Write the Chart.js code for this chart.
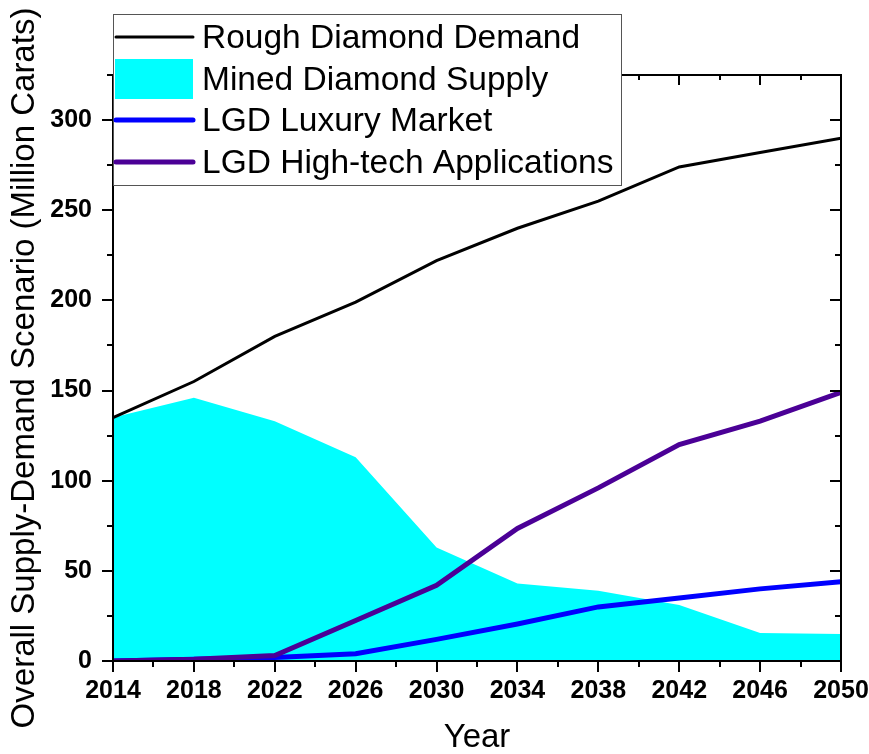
<!DOCTYPE html>
<html>
<head>
<meta charset="utf-8">
<script src="https://cdn.jsdelivr.net/npm/chart.js@4.4.0/dist/chart.umd.min.js"></script>
<style>
html, body { margin: 0; padding: 0; background: #fff; }
</style>
</head>
<body>
<canvas id="DiamondChart" width="869" height="754"></canvas>
<script>
var years = [2014, 2018, 2022, 2026, 2030, 2034, 2038, 2042, 2046, 2050];
var roughDemand = [135, 155, 180, 199, 222, 240, 255, 274, 282, 290];
var minedSupply = [135, 146, 133, 113, 63, 43, 39, 31, 15.5, 15];
var lgdLuxury = [0, 1, 2, 4, 12, 20.5, 30, 35, 40, 44];
var lgdHighTech = [0, 1, 3, 22.5, 42, 73.5, 96, 120, 133, 149];
var yTickLabels = [0, 50, 100, 150, 200, 250, 300];
var xTickLabels = [2014, 2018, 2022, 2026, 2030, 2034, 2038, 2042, 2046, 2050];

var FONT = "'Liberation Sans', Arial, sans-serif";

function points(values) {
	return years.map(function(y, i) { return {x: y, y: values[i]}; });
}

// box frame, inner/outer tick marks and the boxed legend
var frameAndLegend = {
	id: "frameAndLegend",
	afterDraw: function(chart) {
		var ctx = chart.ctx, a = chart.chartArea;
		var xs = chart.scales.x, ys = chart.scales.y;
		function seg(x1, y1, x2, y2) {
			ctx.beginPath(); ctx.moveTo(x1, y1); ctx.lineTo(x2, y2); ctx.stroke();
		}
		ctx.save();
		ctx.strokeStyle = "#000";
		ctx.lineWidth = 2;
		ctx.strokeRect(a.left, a.top, a.right - a.left, a.bottom - a.top);
		ys.ticks.forEach(function(t) {
			var y = Math.round(ys.getPixelForValue(t.value));
			var major = yTickLabels.indexOf(t.value) >= 0;
			seg(a.left - (major ? 11 : 6), y, a.left, y);
			seg(a.right - (major ? 11 : 6), y, a.right, y);
		});
		xs.ticks.forEach(function(t) {
			var x = Math.round(xs.getPixelForValue(t.value));
			var major = xTickLabels.indexOf(t.value) >= 0;
			seg(x, a.bottom, x, a.bottom + (major ? 11 : 6));
			seg(x, a.top, x, a.top + (major ? 10 : 5));
		});

		// legend
		var bx = 113, by = 14, bw = 508, bh = 171;
		ctx.fillStyle = "#fff";
		ctx.fillRect(bx, by, bw, bh);
		ctx.strokeStyle = "#555";
		ctx.lineWidth = 1;
		ctx.strokeRect(bx + 0.5, by + 0.5, bw, bh);
		var rows = [37, 79, 120, 162];
		ctx.font = "33.5px " + FONT;
		ctx.textBaseline = "alphabetic";
		chart.data.datasets.forEach(function(ds, i) {
			var cy = rows[i];
			if (ds.fill) {
				ctx.fillStyle = ds.backgroundColor;
				ctx.fillRect(115, cy - 20, 78, 40);
			} else {
				ctx.strokeStyle = ds.borderColor;
				ctx.lineWidth = ds.borderWidth;
				ctx.lineCap = "round";
				seg(116, cy, 193, cy);
			}
			ctx.fillStyle = "#000";
			ctx.fillText(ds.label, 202, cy + 11);
		});
		ctx.restore();
	}
};

new Chart(document.getElementById("DiamondChart").getContext("2d"), {
	type: "line",
	data: {
		datasets: [{
			label: "Rough Diamond Demand",
			data: points(roughDemand),
			borderColor: "#000000",
			borderWidth: 3,
			pointRadius: 0,
			fill: false,
			order: 2
		}, {
			label: "Mined Diamond Supply",
			data: points(minedSupply),
			backgroundColor: "#00ffff",
			borderColor: "#00ffff",
			borderWidth: 0,
			pointRadius: 0,
			fill: "origin",
			order: 3
		}, {
			label: "LGD Luxury Market",
			data: points(lgdLuxury),
			borderColor: "#0000ff",
			borderWidth: 5,
			pointRadius: 0,
			fill: false,
			order: 1
		}, {
			label: "LGD High-tech Applications",
			data: points(lgdHighTech),
			borderColor: "#4b0096",
			borderWidth: 5,
			pointRadius: 0,
			fill: false,
			order: 0
		}]
	},
	options: {
		responsive: false,
		animation: false,
		layout: { padding: { left: 0, top: 75, right: 28, bottom: 0 } },
		plugins: { legend: { display: false }, tooltip: { enabled: false } },
		scales: {
			x: {
				type: "linear",
				min: 2014,
				max: 2050,
				afterFit: function(s) { s.height = 93; s.paddingLeft = 0; s.paddingRight = 0; },
				grid: { display: false, drawTicks: false },
				border: { display: false },
				ticks: {
					stepSize: 2,
					autoSkip: false,
					maxRotation: 0,
					padding: 15,
					color: "#000",
					font: { family: FONT, size: 25, weight: "bold" },
					callback: function(v) { return xTickLabels.indexOf(v) >= 0 ? String(v) : ""; }
				},
				title: {
					display: true,
					text: "Year",
					color: "#000",
					padding: 0,
					font: { family: FONT, size: 33, lineHeight: 1 }
				}
			},
			y: {
				min: 0,
				max: 325,
				afterFit: function(s) { s.width = 113; },
				grid: { display: false, drawTicks: false },
				border: { display: false },
				ticks: {
					stepSize: 25,
					autoSkip: false,
					padding: 21,
					color: "#000",
					font: { family: FONT, size: 25, weight: "bold" },
					callback: function(v) { return yTickLabels.indexOf(v) >= 0 ? String(v) : ""; }
				},
				title: {
					display: true,
					text: "Overall Supply-Demand Scenario (Million Carats)",
					color: "#000",
					padding: { top: 5, bottom: 0 },
					font: { family: FONT, size: 33 }
				}
			}
		}
	},
	plugins: [frameAndLegend]
});
</script>
</body>
</html>
